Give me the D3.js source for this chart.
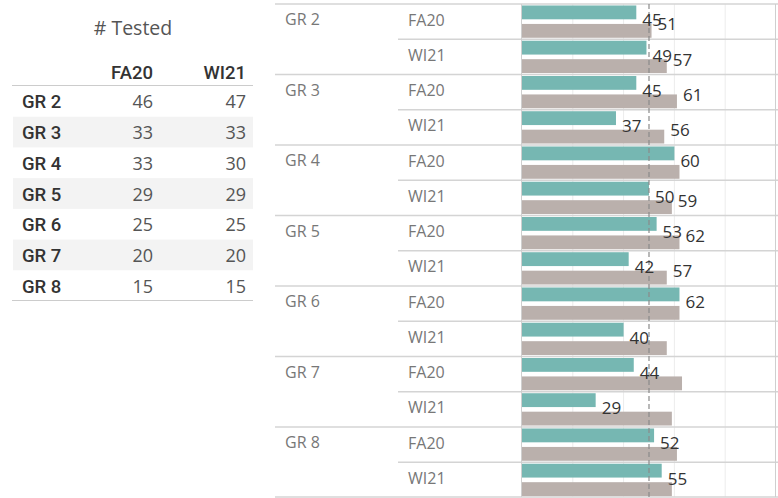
<!DOCTYPE html>
<html>
<head>
<meta charset="utf-8">
<script src="https://cdn.jsdelivr.net/npm/d3@7"></script>
<style>
  body { margin: 0; background: #fff; }
  text { font-family: "Open Sans", "Noto Sans", sans-serif; }
  .semi { font-family: Roboto, "Open Sans", sans-serif; font-weight: 500; }
</style>
</head>
<body>
<div id="chart"></div>
<script>
// data
var grades = ["GR 2", "GR 3", "GR 4", "GR 5", "GR 6", "GR 7", "GR 8"];
var terms = ["FA20", "WI21"];
var testedFA20 = [46, 33, 33, 29, 25, 20, 15];
var testedWI21 = [47, 33, 30, 29, 25, 20, 15];
var tealFA20 = [45, 45, 60, 53, 62, 44, 52];
var tealWI21 = [49, 37, 50, 42, 40, 29, 55];
var grayFA20 = [51, 61, 62, 62, 62, 63, 61];
var grayWI21 = [57, 56, 59, 57, 57, 59, 59];
// gray labels Tableau kept visible (null = hidden)
var grayLabelFA20 = [51, 61, null, 62, null, null, null];
var grayLabelWI21 = [57, 56, 59, 57, null, null, null];
var refValue = 50;
var xTicks = [20, 40, 60, 80];

var W = 778, H = 498;
var svg = d3.select("#chart").append("svg")
    .attr("width", W)
    .attr("height", H);

// ---------- left table: # Tested ----------
var tbl = svg.append("g");
var rowY = d3.scaleBand().domain(grades).range([86, 301]);

tbl.append("text")
  .attr("x", 133).attr("y", 35)
  .attr("text-anchor", "middle")
  .style("font-size", "19.5px")
  .attr("fill", "#555")
  .text("# Tested");

tbl.selectAll(".band")
  .data(grades.filter(function(d, i) { return i % 2 == 1; }))
  .enter().append("rect")
    .attr("x", 13).attr("width", 240)
    .attr("y", function(d) { return rowY(d); })
    .attr("height", rowY.bandwidth())
    .attr("fill", "#f3f3f3");

var colX = { FA20: 153, WI21: 246 };
terms.forEach(function(t) {
  tbl.append("text")
    .attr("class", "semi")
    .attr("x", colX[t]).attr("y", 79)
    .attr("text-anchor", "end")
    .style("font-size", "18.5px")
    .attr("fill", "#333")
    .text(t);
});

tbl.append("line")
  .attr("x1", 12).attr("x2", 253).attr("y1", 85.5).attr("y2", 85.5)
  .attr("stroke", "#ccc");
tbl.append("line")
  .attr("x1", 12).attr("x2", 253).attr("y1", 300.5).attr("y2", 300.5)
  .attr("stroke", "#ccc");

grades.forEach(function(g, i) {
  var cy = rowY(g) + rowY.bandwidth() / 2 + 7;
  tbl.append("text")
    .attr("class", "semi")
    .attr("x", 22).attr("y", cy)
    .style("font-size", "18.5px")
    .attr("fill", "#333")
    .text(g);
  tbl.append("text")
    .attr("x", colX.FA20).attr("y", cy)
    .attr("text-anchor", "end")
    .style("font-size", "18px")
    .attr("fill", "#555")
    .text(testedFA20[i]);
  tbl.append("text")
    .attr("x", colX.WI21).attr("y", cy)
    .attr("text-anchor", "end")
    .style("font-size", "18px")
    .attr("fill", "#555")
    .text(testedWI21[i]);
});

// ---------- right: bar chart ----------
var x = d3.scaleLinear().domain([0, 100]).range([522, 776]);
var yGrade = d3.scaleBand().domain(grades).range([4, 497.5]);
var yTerm = d3.scaleBand().domain(terms).range([0, yGrade.bandwidth()]);
var ySeries = d3.scaleBand().domain(["teal", "gray"])
    .range([0, yTerm.bandwidth()])
    .paddingInner(0.25).paddingOuter(0.08);

// grid lines
svg.append("g")
  .selectAll("line")
  .data(xTicks)
  .enter().append("line")
    .attr("x1", function(d) { return x(d); })
    .attr("x2", function(d) { return x(d); })
    .attr("y1", 4).attr("y2", 497)
    .attr("stroke", "#ececec");

// rows
var rows = [];
grades.forEach(function(g, i) {
  rows.push({ grade: g, term: "FA20", teal: tealFA20[i], gray: grayFA20[i], grayLabel: grayLabelFA20[i] });
  rows.push({ grade: g, term: "WI21", teal: tealWI21[i], gray: grayWI21[i], grayLabel: grayLabelWI21[i] });
});
function rowTop(d) { return yGrade(d.grade) + yTerm(d.term); }

// separators
svg.append("g").selectAll("line")
  .data(grades)
  .enter().append("line")
    .attr("x1", 275).attr("x2", 778)
    .attr("y1", function(d) { return yGrade(d); })
    .attr("y2", function(d) { return yGrade(d); })
    .attr("stroke", "#d4d4d4").attr("stroke-width", 1.5);
svg.append("line")
  .attr("x1", 275).attr("x2", 778).attr("y1", 497).attr("y2", 497)
  .attr("stroke", "#d4d4d4").attr("stroke-width", 1.5);
svg.append("g").selectAll("line")
  .data(grades)
  .enter().append("line")
    .attr("x1", 398).attr("x2", 778)
    .attr("y1", function(d) { return yGrade(d) + yTerm("WI21"); })
    .attr("y2", function(d) { return yGrade(d) + yTerm("WI21"); })
    .attr("stroke", "#d4d4d4").attr("stroke-width", 1.5);

// pane borders
svg.append("line")
  .attr("x1", x(0) - 0.5).attr("x2", x(0) - 0.5).attr("y1", 4).attr("y2", 497)
  .attr("stroke", "#cfcfcf");
svg.append("line")
  .attr("x1", 775.5).attr("x2", 775.5).attr("y1", 4).attr("y2", 497)
  .attr("stroke", "#cfcfcf");

// row header labels
grades.forEach(function(g) {
  svg.append("text")
    .attr("x", 285).attr("y", yGrade(g) + 21)
    .style("font-size", "16px")
    .attr("fill", "#777")
    .text(g);
});
svg.append("g").selectAll("text")
  .data(rows)
  .enter().append("text")
    .attr("x", 408)
    .attr("y", function(d) { return rowTop(d) + 21.5; })
    .style("font-size", "16px")
    .attr("fill", "#777")
    .text(function(d) { return d.term; });

// bars
var bars = svg.append("g");
bars.selectAll(".teal")
  .data(rows)
  .enter().append("rect")
    .attr("x", x(0))
    .attr("y", function(d) { return rowTop(d) + ySeries("teal"); })
    .attr("width", function(d) { return x(d.teal) - x(0); })
    .attr("height", ySeries.bandwidth())
    .attr("fill", "#76b7b2");
bars.selectAll(".gray")
  .data(rows)
  .enter().append("rect")
    .attr("x", x(0))
    .attr("y", function(d) { return rowTop(d) + ySeries("gray"); })
    .attr("width", function(d) { return x(d.gray) - x(0); })
    .attr("height", ySeries.bandwidth())
    .attr("fill", "#bab0ac");

// reference line
svg.append("line")
  .attr("x1", x(refValue)).attr("x2", x(refValue))
  .attr("y1", 4).attr("y2", 497)
  .attr("stroke", "#8a8a8a")
  .attr("stroke-width", 1.2)
  .attr("stroke-dasharray", "5,3");

// value labels
svg.append("g").selectAll("text")
  .data(rows.filter(function(d) { return d.grayLabel != null; }))
  .enter().append("text")
    .attr("x", function(d) { return x(d.gray) + 6; })
    .attr("y", function(d) { return rowTop(d) + ySeries("gray") + ySeries.bandwidth() - 7.5; })
    .style("font-size", "17px")
    .attr("fill", "#333")
    .text(function(d) { return d.grayLabel; });
svg.append("g").selectAll("text")
  .data(rows)
  .enter().append("text")
    .attr("x", function(d) { return x(d.teal) + 6; })
    .attr("y", function(d) { return rowTop(d) + ySeries("teal") + ySeries.bandwidth() + 7; })
    .style("font-size", "17px")
    .attr("fill", "#333")
    .text(function(d) { return d.teal; });
</script>
</body>
</html>
